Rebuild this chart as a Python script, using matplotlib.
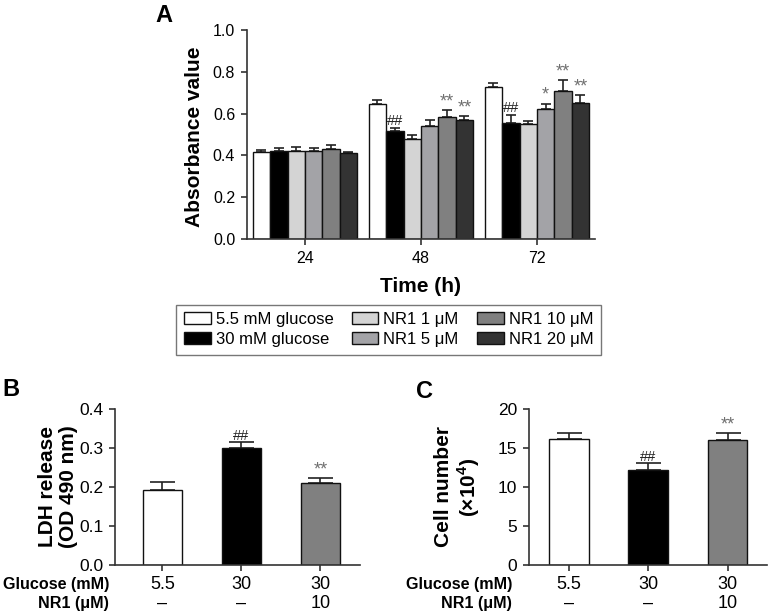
import numpy as np
import matplotlib
matplotlib.use('Agg')
import matplotlib.pyplot as plt
import matplotlib.transforms as mtransforms

plt.rcParams['font.family'] = ['Liberation Sans', 'DejaVu Sans']
plt.rcParams['mathtext.fontset'] = 'custom'
plt.rcParams['mathtext.rm'] = 'Liberation Sans'
plt.rcParams['mathtext.bf'] = 'Liberation Sans:bold'

# Panel A data
time_groups = ['24', '48', '72']
series_labels = ['5.5 mM glucose', '30 mM glucose', 'NR1 1 μM',
                 'NR1 5 μM', 'NR1 10 μM', 'NR1 20 μM']
series_colors = ['#ffffff', '#000000', '#d4d4d4', '#a3a3a7', '#808080', '#333333']
absorb_means = [
    [0.415, 0.645, 0.725],   # 5.5 mM glucose
    [0.422, 0.515, 0.555],   # 30 mM glucose
    [0.420, 0.477, 0.548],   # NR1 1
    [0.420, 0.543, 0.620],   # NR1 5
    [0.430, 0.585, 0.710],   # NR1 10
    [0.411, 0.567, 0.652],   # NR1 20
]
absorb_errs = [
    [0.012, 0.020, 0.022],
    [0.015, 0.017, 0.040],
    [0.020, 0.022, 0.015],
    [0.017, 0.028, 0.028],
    [0.020, 0.030, 0.052],
    [0.004, 0.020, 0.038],
]
absorb_marks = [
    ['', '', ''],
    ['', '##', '##'],
    ['', '', ''],
    ['', '', '*'],
    ['', '**', '**'],
    ['', '**', '**'],
]

# Panels B and C data
cond_glucose = ['5.5', '30', '30']
cond_nr1 = ['–', '–', '10']
cond_colors = ['#ffffff', '#000000', '#808080']
ldh_means = [0.191, 0.301, 0.211]
ldh_errs = [0.022, 0.014, 0.012]
ldh_marks = ['', '##', '**']
cell_means = [16.1, 12.2, 16.0]
cell_errs = [0.8, 0.9, 0.9]
cell_marks = ['', '##', '**']

fig = plt.figure(figsize=(7.68, 6.12), dpi=100)

def style_axes(ax, size):
    for s in ['top', 'right']:
        ax.spines[s].set_visible(False)
    for s in ['left', 'bottom']:
        ax.spines[s].set_linewidth(1.2)
        ax.spines[s].set_color('#333333')
    ax.tick_params(direction='out', length=4.5, width=1.2, color='#333333',
                   labelsize=size, pad=4)

def add_mark(ax, xv, yv, m):
    if m.startswith('#'):
        ax.text(xv, yv, m, ha='center', va='bottom', fontsize=10.5, color='#222222')
    else:
        ax.text(xv, yv, m, ha='center', va='bottom', fontsize=13, color='#707070')

# ---- Panel A ----
axA = fig.add_axes([0.3216, 0.6095, 0.453, 0.3415])
x = np.arange(len(time_groups))
w = 0.15
for i, lab in enumerate(series_labels):
    pos = x + (i - 2.5) * w
    axA.bar(pos, absorb_means[i], width=w, color=series_colors[i], edgecolor='#111111',
            linewidth=1.0, label=lab, zorder=2)
    axA.errorbar(pos, absorb_means[i], yerr=[np.zeros(3), absorb_errs[i]], fmt='none',
                 ecolor='#222222', elinewidth=1.2, capsize=3.5, capthick=1.2, zorder=1)
    for j in range(3):
        if absorb_marks[i][j]:
            add_mark(axA, pos[j], absorb_means[i][j] + absorb_errs[i][j] - 0.002, absorb_marks[i][j])
axA.set_xlim(-0.5, 2.5)
axA.set_ylim(0, 1.0)
axA.set_yticks(np.arange(0, 1.01, 0.2))
axA.set_yticklabels(['%.1f' % v for v in np.arange(0, 1.01, 0.2)])
axA.set_xticks(x)
axA.set_xticklabels(time_groups)
style_axes(axA, 11.5)
axA.set_ylabel('Absorbance value', fontsize=15, fontweight='bold')
axA.yaxis.set_label_coords(-0.125, 0.49)
axA.set_xlabel('Time (h)', fontsize=15, fontweight='bold')
axA.xaxis.set_label_coords(0.5, -0.18)

leg = fig.legend(loc='center', bbox_to_anchor=(0.506, 0.4616), ncol=3, fontsize=12,
                 frameon=True, fancybox=False, edgecolor='#555555', handlelength=1.6,
                 handleheight=0.7, columnspacing=1.1, labelspacing=0.3,
                 handletextpad=0.3, borderpad=0.45)
leg.get_frame().set_linewidth(1.0)

fig.text(155 / 768, 1 - 16 / 612, 'A', fontsize=17, fontweight='bold', ha='left', va='center')

# ---- Panels B and C ----
def cond_panel(rect, means, errs, marks, ylim, yticks, fmt, ylabel, ylabel_x, xlim, row_x, mark_off):
    ax = fig.add_axes(rect)
    xp = np.arange(len(means))
    ax.bar(xp, means, width=0.5, color=cond_colors, edgecolor='#111111', linewidth=1.0, zorder=2)
    ax.errorbar(xp, means, yerr=[np.zeros(3), errs], fmt='none', ecolor='#222222',
                elinewidth=1.2, capsize=9, capthick=1.2, zorder=1)
    for j, m in enumerate(marks):
        if m:
            add_mark(ax, xp[j], means[j] + errs[j] + mark_off, m)
    ax.set_xlim(*xlim)
    ax.set_ylim(*ylim)
    ax.set_yticks(yticks)
    ax.set_yticklabels([fmt % v for v in yticks])
    ax.set_xticks(xp)
    ax.set_xticklabels([])
    style_axes(ax, 12.5)
    ax.set_ylabel(ylabel, fontsize=15, fontweight='bold', linespacing=1.1)
    ax.yaxis.set_label_coords(ylabel_x, 0.5)
    tr = mtransforms.blended_transform_factory(ax.transData, ax.transAxes)
    for j in range(len(means)):
        ax.text(xp[j], -0.128, cond_glucose[j], transform=tr, ha='center', va='center', fontsize=13)
        ax.text(xp[j], -0.244, cond_nr1[j], transform=tr, ha='center', va='center', fontsize=13)
    ax.text(row_x, -0.128, 'Glucose (mM)', transform=ax.transAxes, ha='right', va='center',
            fontsize=11.6, fontweight='bold')
    ax.text(row_x, -0.244, 'NR1 (μM)', transform=ax.transAxes, ha='right', va='center',
            fontsize=11.6, fontweight='bold')
    return ax

cond_panel([0.1497, 0.0768, 0.319, 0.255], ldh_means, ldh_errs, ldh_marks,
           (0, 0.4), np.arange(0, 0.41, 0.1), '%.1f', 'LDH release\n(OD 490 nm)',
           -0.151, (-0.6, 2.5), -0.024, -0.002)
cond_panel([0.689, 0.0768, 0.31, 0.255], cell_means, cell_errs, cell_marks,
           (0, 20), np.arange(0, 21, 5), '%d', 'Cell number\n(×10$^\\mathbf{4}$)',
           -0.2, (-0.5, 2.5), -0.071, -0.1)

fig.text(2 / 768, 1 - 390 / 612, 'B', fontsize=17, fontweight='bold', ha='left', va='center')
fig.text(416 / 768, 1 - 392 / 612, 'C', fontsize=17, fontweight='bold', ha='left', va='center')

plt.savefig('out.png', dpi=100)
